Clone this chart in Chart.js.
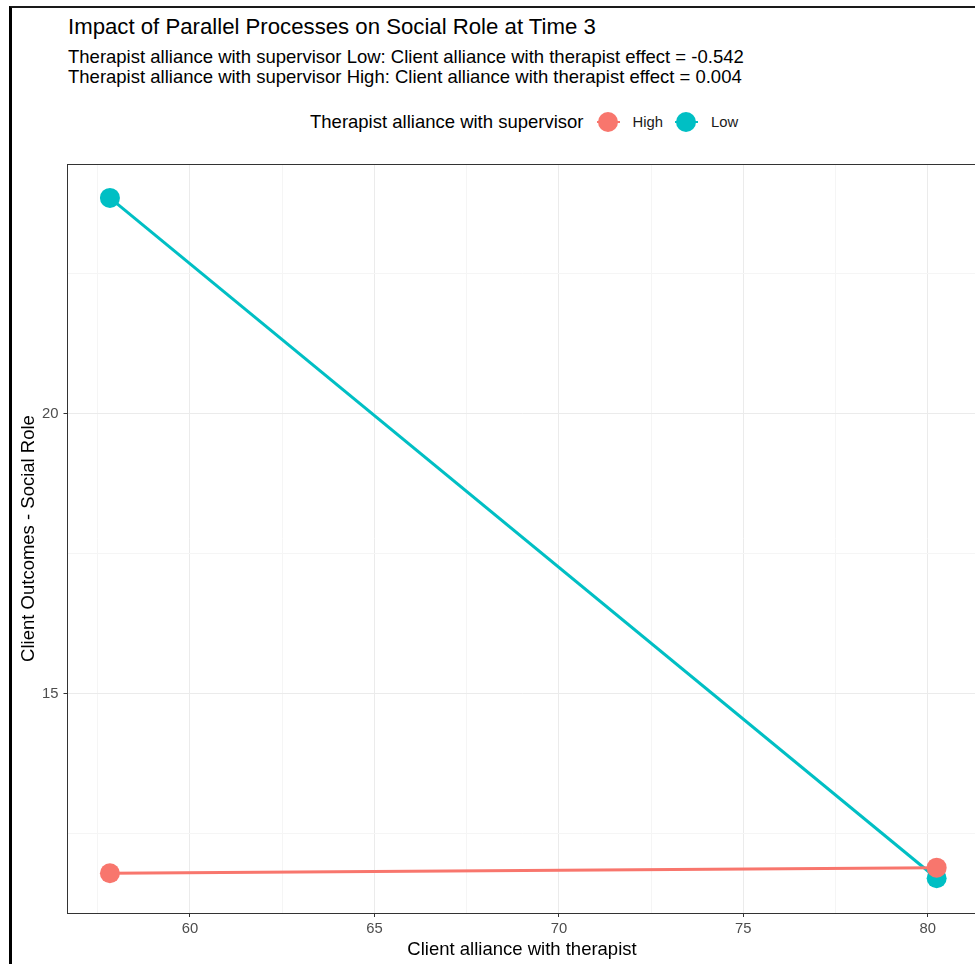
<!DOCTYPE html>
<html>
<head>
<meta charset="utf-8">
<script src="https://cdn.jsdelivr.net/npm/chart.js@4.4.0/dist/chart.umd.min.js"></script>
<style>
  html, body { margin: 0; padding: 0; background: #fff; overflow: hidden; }
  #wrap { position: relative; width: 975px; height: 964px; overflow: hidden;
          font-family: "Liberation Sans", Arial, sans-serif; color: #000; }
  #frame { position: absolute; left: 9px; top: 6px; width: 1000px; height: 1000px;
           border-top: 2px solid #1a1a1a; border-left: 3px solid #000; }
  #chartBox { position: absolute; left: 0; top: 0; }
  #title { position: absolute; left: 68px; top: 16px; font-size: 22.2px; line-height: 22.2px; white-space: nowrap; }
  #subtitle { position: absolute; left: 68px; top: 46.6px; font-size: 18.5px; line-height: 20.7px; white-space: nowrap; }
  #legend { position: absolute; left: 310px; top: 112px; height: 20px; display: flex; align-items: center; white-space: nowrap; }
  #legend .ttl { font-size: 18.5px; line-height: 20px; margin-right: 13px; }
  #legend .key { position: relative; width: 23px; height: 20px; margin-right: 13px; }
  #legend .key i { position: absolute; left: 0; right: 0; top: 9px; height: 2px; }
  #legend .key b { position: absolute; left: 1.5px; top: 0; width: 20px; height: 20px; border-radius: 50%; }
  #legend .lbl { font-size: 14.8px; line-height: 20px; margin-right: 12px; color: #1a1a1a; }
</style>
</head>
<body>
<div id="wrap">
  <div id="frame"></div>
  <div id="title">Impact of Parallel Processes on Social Role at Time 3</div>
  <div id="subtitle">Therapist alliance with supervisor Low: Client alliance with therapist effect = -0.542<br>Therapist alliance with supervisor High: Client alliance with therapist effect = 0.004</div>
  <div id="legend"><span class="ttl">Therapist alliance with supervisor</span></div>
  <div id="chartBox"><canvas id="chart" width="990" height="964"></canvas></div>
</div>
<script>
// 数据
const xValues = [57.83, 80.24];
const highValues = [11.79, 11.89];
const lowValues = [23.85, 11.70];
const seriesNames = ['High', 'Low'];
const seriesColors = ['#F8766D', '#00BFC4'];
const xMajorTicks = [60, 65, 70, 75, 80];
const xMinorTicks = [57.5, 62.5, 67.5, 72.5, 77.5];
const yMajorTicks = [15, 20];
const yMinorTicks = [12.5, 17.5, 22.5];
const xRange = [56.68, 81.32];
const yRange = [11.08, 24.455];

const fontFamily = '"Liberation Sans", Arial, sans-serif';

function toPoints(vals) {
    return xValues.map(function(x, i) { return { x: x, y: vals[i] }; });
}

// 坐标轴：主网格 + 次网格，只给主刻度标数字
function makeScale(major, minor, range, extra) {
    var all = major.concat(minor).sort(function(a, b) { return a - b; });
    var isMajor = function(c) { return c.tick && major.indexOf(c.tick.value) >= 0; };
    var scale = Object.assign({
        type: 'linear',
        min: range[0],
        max: range[1],
        afterBuildTicks: function(s) { s.ticks = all.map(function(v) { return { value: v }; }); },
        grid: {
            color: function(c) { return isMajor(c) ? '#EBEBEB' : '#F5F5F5'; },
            tickColor: function(c) { return isMajor(c) ? '#333333' : 'rgba(0,0,0,0)'; },
            tickLength: 4,
            lineWidth: 1
        },
        border: { color: '#333333', width: 1 },
        ticks: {
            color: '#4D4D4D',
            font: { size: 14.8, family: fontFamily },
            padding: 3,
            autoSkip: false,
            maxRotation: 0,
            callback: function(v) { return major.indexOf(v) >= 0 ? String(v) : ''; }
        }
    }, extra);
    return scale;
}

// 面板上边框和右边框
var panelBorder = {
    id: 'panelBorder',
    afterDatasetsDraw: function(chart) {
        var ctx = chart.ctx, a = chart.chartArea;
        var top = Math.floor(a.top) + 0.5, right = Math.floor(a.right) + 0.5;
        ctx.save();
        ctx.strokeStyle = '#333333';
        ctx.lineWidth = 1;
        ctx.beginPath();
        ctx.moveTo(a.left, top); ctx.lineTo(right, top);
        ctx.moveTo(right, top); ctx.lineTo(right, a.bottom);
        ctx.stroke();
        ctx.restore();
    }
};

var yScale = makeScale(yMajorTicks, yMinorTicks, yRange, {
    afterFit: function(s) { s.width = 55.5; },
    title: { display: true, text: 'Client Outcomes - Social Role', color: '#000',
             font: { size: 18.5, family: fontFamily }, padding: { top: 5.4, bottom: 0 } }
});
yScale.ticks.padding = 5;

var ctx = document.getElementById('chart').getContext('2d');
var chart = new Chart(ctx, {
    type: 'line',
    data: {
        datasets: [
            { label: seriesNames[0], data: toPoints(highValues) },
            { label: seriesNames[1], data: toPoints(lowValues) }
        ].map(function(d, i) {
            return Object.assign(d, {
                borderColor: seriesColors[i],
                backgroundColor: seriesColors[i],
                pointBackgroundColor: seriesColors[i],
                borderWidth: 3,
                pointRadius: 10,
                pointHoverRadius: 10,
                pointBorderWidth: 0,
                tension: 0,
                fill: false
            });
        })
    },
    options: {
        responsive: false,
        animation: false,
        events: [],
        layout: { padding: { left: 12, top: 164, right: 13.5, bottom: 0 } },
        plugins: { legend: { display: false }, tooltip: { enabled: false } },
        scales: {
            x: makeScale(xMajorTicks, xMinorTicks, xRange, {
                afterFit: function(s) { s.height = 51; },
                title: { display: true, text: 'Client alliance with therapist', color: '#000',
                         font: { size: 18.5, family: fontFamily }, padding: { top: 0, bottom: 3 } }
            }),
            y: yScale
        }
    },
    plugins: [panelBorder]
});

// 图例
var legend = document.getElementById('legend');
chart.data.datasets.forEach(function(d) {
    var key = document.createElement('span');
    key.className = 'key';
    key.innerHTML = '<i style="background:' + d.borderColor + '"></i><b style="background:' + d.pointBackgroundColor + '"></b>';
    var lbl = document.createElement('span');
    lbl.className = 'lbl';
    lbl.textContent = d.label;
    legend.appendChild(key);
    legend.appendChild(lbl);
});
</script>
</body>
</html>
